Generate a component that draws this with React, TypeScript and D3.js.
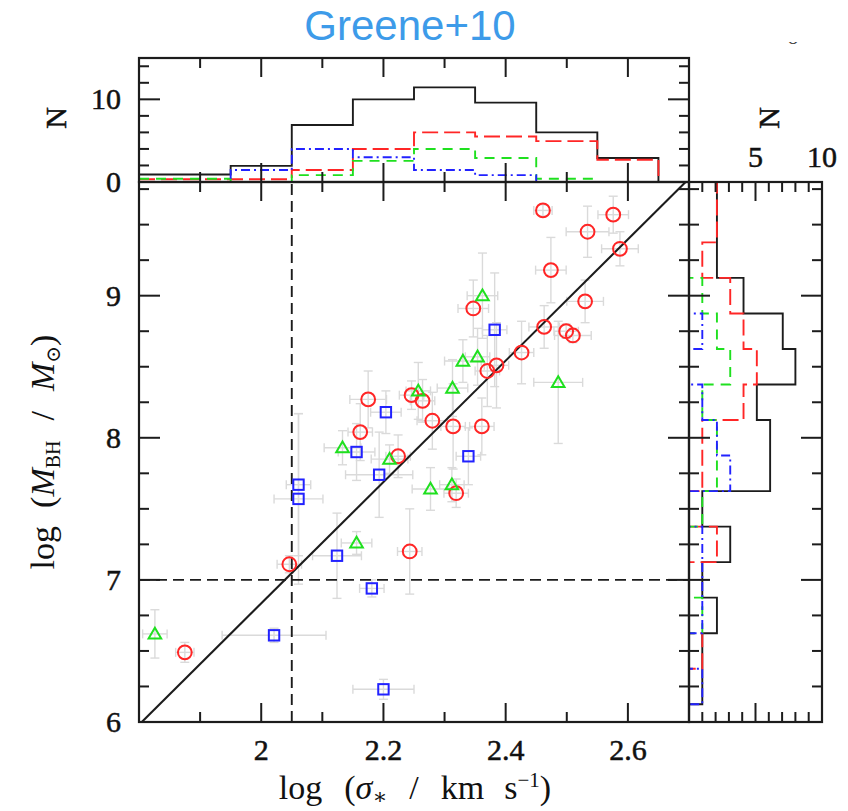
import React from 'react';
import * as d3 from 'd3';

const W = 848;
const H = 811;

// Scatter samples: [log sigma, log M_BH, sigma error, mass error]
const redPoints: number[][] = [
  [2.461, 9.60, 0.015, 0.04], [2.576, 9.57, 0.025, 0.13], [2.534, 9.45, 0.035, 0.18],
  [2.587, 9.33, 0.03, 0.12], [2.474, 9.18, 0.025, 0.23], [2.530, 8.96, 0.03, 0.15],
  [2.347, 8.91, 0.025, 0.2], [2.463, 8.78, 0.025, 0.15], [2.499, 8.75, 0.02, 0.05],
  [2.510, 8.72, 0.03, 0.05], [2.426, 8.60, 0.02, 0.22], [2.385, 8.51, 0.02, 0.3],
  [2.370, 8.47, 0.02, 0.25], [2.246, 8.30, 0.02, 0.1], [2.264, 8.26, 0.02, 0.15],
  [2.280, 8.12, 0.025, 0.2], [2.314, 8.08, 0.02, 0.3], [2.361, 8.08, 0.02, 0.2],
  [2.224, 7.87, 0.02, 0.15], [2.175, 8.27, 0.03, 0.2], [2.162, 8.04, 0.02, 0.2],
  [2.243, 7.20, 0.02, 0.3], [2.046, 7.11, 0.02, 0.06], [2.319, 7.61, 0.02, 0.1],
  [1.875, 6.49, 0.015, 0.07],
];
const greenPoints: number[][] = [
  [2.362, 9.00, 0.025, 0.3], [2.330, 8.54, 0.03, 0.15], [2.354, 8.57, 0.02, 0.2],
  [2.313, 8.35, 0.025, 0.2], [2.486, 8.39, 0.04, 0.43], [2.257, 8.33, 0.02, 0.2],
  [2.133, 7.93, 0.03, 0.12], [2.210, 7.85, 0.03, 0.1], [2.277, 7.64, 0.03, 0.15],
  [2.312, 7.67, 0.02, 0.12], [2.156, 7.26, 0.025, 0.08], [1.826, 6.62, 0.02, 0.17],
];
const bluePoints: number[][] = [
  [2.382, 8.76, 0.02, 0.4], [2.339, 7.87, 0.02, 0.2], [2.204, 8.18, 0.025, 0.15],
  [2.156, 7.90, 0.03, 0.2], [2.193, 7.74, 0.055, 0.3], [2.061, 7.67, 0.02, 0.5],
  [2.061, 7.57, 0.04, 0.6], [2.124, 7.17, 0.04, 0.3], [2.181, 6.94, 0.02, 0.06],
  [2.021, 6.61, 0.085, 0.05], [2.200, 6.23, 0.05, 0.07],
];

// Histogram of log sigma (bin centres, width 0.1; first bin runs to the frame)
const sigmaBins = [1.9, 2.0, 2.1, 2.2, 2.3, 2.4, 2.5, 2.6];
const sigmaAll = [0.9, 1.95, 6.9, 10.0, 11.45, 9.6, 6.0, 2.9];
const sigmaRed = [0.33, 0.33, 1.45, 4.0, 6.0, 5.5, 4.95, 2.7];
const sigmaGreen = [0.4, 0.0, 0.83, 2.56, 4.0, 2.9, 0.4, 0.0];
const sigmaBlue = [0.0, 1.45, 4.0, 3.0, 1.45, 0.83, 0.0, 0.0];

// Histogram of log M_BH (bin centres, width 0.25)
const massBins = [6.0, 6.25, 6.5, 6.75, 7.0, 7.25, 7.5, 7.75, 8.0, 8.25, 8.5, 8.75, 9.0, 9.25, 9.5, 9.75];
const massAll = [0, 1, 1, 2.1, 1, 3.1, 1, 6.1, 6.1, 5.1, 8.0, 7.05, 4.1, 2.1, 2.1, 2.1];
const massRed = [0, 0, 1, 0, 0, 2.1, 0, 1, 1, 4.1, 5.1, 4.1, 3.1, 1.0, 2.1, 2.1];
const massGreen = [0, 0, 0, 1, 0, 0, 1, 2.1, 2.1, 1, 3.1, 2.1, 1, 0, 0, 0];
const massBlue = [0, 1, 0, 1, 1, 1, 0, 3.1, 2.1, 1, 0, 1, 0, 0, 0, 0];

// M-sigma relation: log M = alpha + beta * (log sigma - log 200)
const relAlpha = 8.12;
const relBeta = 4.27;
const sigmaCut = 2.05;
const massCut = 7;

const xTickLabels = ['2', '2.2', '2.4', '2.6'];
const xMajor = [2.0, 2.2, 2.4, 2.6];
const xMinor = [1.9, 2.1, 2.3, 2.5];
const yMajor = [6, 7, 8, 9];
const yMinor = d3.range(6.25, 9.8, 0.25).filter((v) => Math.abs(v - Math.round(v)) > 0.01);
const nTopMajor = [0, 10];
const nTopMinor = [2, 4, 6, 8, 12, 14];
const nRightMajor = [5];
const nRightMinor = [1, 2, 3, 4, 6, 7, 8, 9];

const RED = '#ff2626';
const GREEN = '#1fe01f';
const BLUE = '#2222ff';
const INK = '#1c1c1c';
const ERR = '#dadada';

const L = 139, R = 689, T = 182, B = 722, TT = 58, RR = 822;

const x = d3.scaleLinear().domain([1.8, 2.7]).range([L, R]);
const y = d3.scaleLinear().domain([6, 9.8]).range([B, T]);
const yN = d3.scaleLinear().domain([0, 15]).range([T, TT]);
const xN = d3.scaleLinear().domain([0, 10]).range([R, RR]);

const line = d3.line<[number, number]>();

function sigmaStep(vals: number[]) {
  const half = 0.05;
  const pts: [number, number][] = [];
  vals.forEach((v, i) => {
    const a = i === 0 ? x.domain()[0] : sigmaBins[i] - half;
    const b = sigmaBins[i] + half;
    pts.push([x(a), yN(v)], [x(b), yN(v)]);
  });
  pts.push([x(sigmaBins[sigmaBins.length - 1] + half), yN(0)]);
  return line(pts) as string;
}

function massStep(vals: number[]) {
  const half = 0.125;
  const pts: [number, number][] = [];
  vals.forEach((v, i) => {
    const lo = Math.max(massBins[i] - half, y.domain()[0]);
    const hi = Math.min(massBins[i] + half, y.domain()[1]);
    pts.push([xN(v), y(lo)], [xN(v), y(hi)]);
  });
  return line(pts) as string;
}

const MAJ = 19;
const MIN = 10;

function ErrorBars({ pts }: { pts: number[][] }) {
  const cap = 4.5;
  return (
    <g stroke={ERR} strokeWidth={1.4} fill="none">
      {pts.map((p, i) => {
        const cx = x(p[0]);
        const cy = y(p[1]);
        const x0 = x(p[0] - p[2]);
        const x1 = x(p[0] + p[2]);
        const y0 = y(p[1] - p[3]);
        const y1 = y(p[1] + p[3]);
        return (
          <g key={i}>
            <line x1={x0} x2={x1} y1={cy} y2={cy} />
            <line x1={x0} x2={x0} y1={cy - cap} y2={cy + cap} />
            <line x1={x1} x2={x1} y1={cy - cap} y2={cy + cap} />
            <line x1={cx} x2={cx} y1={y0} y2={y1} />
            <line x1={cx - cap} x2={cx + cap} y1={y0} y2={y0} />
            <line x1={cx - cap} x2={cx + cap} y1={y1} y2={y1} />
          </g>
        );
      })}
    </g>
  );
}

export default function App() {
  const serif = '"Liberation Serif", "DejaVu Serif", serif';
  const tickFont = 30;

  const relX0 = Math.log10(200) + (6 - relAlpha) / relBeta;
  const relX1 = Math.log10(200) + (9.8 - relAlpha) / relBeta;
  const rel = (s: number) => relAlpha + relBeta * (s - Math.log10(200));

  const hTicks = (top: number, bottom: number) => (
    <g>
      {xMajor.map((v) => (
        <g key={'M' + v}>
          <line x1={x(v)} x2={x(v)} y1={bottom} y2={bottom - MAJ} />
          <line x1={x(v)} x2={x(v)} y1={top} y2={top + MAJ} />
        </g>
      ))}
      {xMinor.map((v) => (
        <g key={'m' + v}>
          <line x1={x(v)} x2={x(v)} y1={bottom} y2={bottom - MIN} />
          <line x1={x(v)} x2={x(v)} y1={top} y2={top + MIN} />
        </g>
      ))}
    </g>
  );

  const vTicks = (left: number, right: number) => (
    <g>
      {yMajor.map((v) => (
        <g key={'M' + v}>
          <line x1={left} x2={left + MAJ + 2} y1={y(v)} y2={y(v)} />
          <line x1={right} x2={right - MAJ - 2} y1={y(v)} y2={y(v)} />
        </g>
      ))}
      {yMinor.map((v) => (
        <g key={'m' + v}>
          <line x1={left} x2={left + MIN} y1={y(v)} y2={y(v)} />
          <line x1={right} x2={right - MIN} y1={y(v)} y2={y(v)} />
        </g>
      ))}
    </g>
  );

  return (
    <svg
      width={W}
      height={H}
      viewBox={`0 0 ${W} ${H}`}
      style={{ position: 'absolute', left: 0, top: 0, background: '#fff' }}
    >
      <rect width={W} height={H} fill="#fff" />
      <defs>
        <clipPath id="main-clip">
          <rect x={L} y={T} width={R - L} height={B - T} />
        </clipPath>
        <clipPath id="stub-clip">
          <rect x={770} y={42} width={50} height={20} />
        </clipPath>
      </defs>

      {/* title */}
      <text
        x={410}
        y={40}
        textAnchor="middle"
        fontFamily='"Liberation Sans", Arial, sans-serif'
        fontSize={42}
        fill="#3d9be9"
      >
        Greene+10
      </text>
      <text x={793} y={44} textAnchor="middle" fontFamily={serif} fontSize={22} fill="#444" clipPath="url(#stub-clip)">
        o
      </text>

      {/* error bars */}
      <g clipPath="url(#main-clip)">
        <ErrorBars pts={redPoints} />
        <ErrorBars pts={greenPoints} />
        <ErrorBars pts={bluePoints} />
      </g>

      {/* reference lines */}
      <g stroke={INK} strokeWidth={1.9} fill="none">
        <line x1={x(sigmaCut)} x2={x(sigmaCut)} y1={B} y2={T} strokeDasharray="11,6" />
        <line x1={L} x2={R} y1={y(massCut)} y2={y(massCut)} strokeDasharray="11,6" />
        <line x1={x(relX0)} y1={y(rel(relX0))} x2={x(relX1)} y2={y(rel(relX1))} strokeWidth={2.1} />
      </g>

      {/* markers */}
      <g fill="none" strokeWidth={2}>
        {redPoints.map((p, i) => (
          <circle key={'r' + i} cx={x(p[0])} cy={y(p[1])} r={6.9} stroke={RED} />
        ))}
        {greenPoints.map((p, i) => {
          const cx = x(p[0]);
          const cy = y(p[1]);
          return (
            <path
              key={'g' + i}
              d={`M${cx - 6.3},${cy + 4.6} L${cx + 6.3},${cy + 4.6} L${cx},${cy - 6.2} Z`}
              stroke={GREEN}
            />
          );
        })}
        {bluePoints.map((p, i) => (
          <rect key={'b' + i} x={x(p[0]) - 5.2} y={y(p[1]) - 5.2} width={10.4} height={10.4} stroke={BLUE} />
        ))}
      </g>

      {/* top histogram */}
      <g fill="none" strokeWidth={1.9}>
        <path d={sigmaStep(sigmaAll)} stroke={INK} />
        <path d={sigmaStep(sigmaRed)} stroke={RED} strokeDasharray="16,6" />
        <path d={sigmaStep(sigmaGreen)} stroke={GREEN} strokeDasharray="10,7" />
        <path d={sigmaStep(sigmaBlue)} stroke={BLUE} strokeDasharray="9,4,2,4" />
      </g>

      {/* right histogram */}
      <g fill="none" strokeWidth={1.9}>
        <path d={massStep(massAll)} stroke={INK} />
        <path d={massStep(massRed)} stroke={RED} strokeDasharray="16,6" />
        <path d={massStep(massGreen)} stroke={GREEN} strokeDasharray="10,7" />
        <path d={massStep(massBlue)} stroke={BLUE} strokeDasharray="9,4,2,4" />
      </g>

      {/* frames and ticks */}
      <g stroke={INK} strokeWidth={2} fill="none">
        <rect x={L} y={T} width={R - L} height={B - T} strokeWidth={2.2} />
        <rect x={L} y={TT} width={R - L} height={T - TT} strokeWidth={2.2} />
        <rect x={R} y={T} width={RR - R} height={B - T} strokeWidth={2.2} />
        {hTicks(T, B)}
        {hTicks(TT, T)}
        {vTicks(L, R)}
        {vTicks(R, RR)}
        {nTopMajor.map((v) => (
          <g key={'tn' + v}>
            <line x1={L} x2={L + MAJ + 2} y1={yN(v)} y2={yN(v)} />
            <line x1={R} x2={R - MAJ - 2} y1={yN(v)} y2={yN(v)} />
          </g>
        ))}
        {nTopMinor.map((v) => (
          <g key={'tm' + v}>
            <line x1={L} x2={L + MIN} y1={yN(v)} y2={yN(v)} />
            <line x1={R} x2={R - MIN} y1={yN(v)} y2={yN(v)} />
          </g>
        ))}
        {nRightMajor.map((v) => (
          <g key={'rn' + v}>
            <line x1={xN(v)} x2={xN(v)} y1={T} y2={T + MAJ} />
            <line x1={xN(v)} x2={xN(v)} y1={B} y2={B - MAJ} />
          </g>
        ))}
        {nRightMinor.map((v) => (
          <g key={'rm' + v}>
            <line x1={xN(v)} x2={xN(v)} y1={T} y2={T + MIN} />
            <line x1={xN(v)} x2={xN(v)} y1={B} y2={B - MIN} />
          </g>
        ))}
      </g>

      {/* tick labels */}
      <g fontFamily={serif} fontSize={tickFont} fill="#111" stroke="#111" strokeWidth={0.5}>
        {xMajor.map((v, i) => (
          <text key={'xl' + v} x={x(v)} y={760} textAnchor="middle">
            {xTickLabels[i]}
          </text>
        ))}
        {yMajor.map((v) => (
          <text key={'yl' + v} x={121} y={y(v) + 10} textAnchor="end">
            {String(v)}
          </text>
        ))}
        {nTopMajor.map((v) => (
          <text key={'nl' + v} x={121} y={yN(v) + 10} textAnchor="end">
            {String(v)}
          </text>
        ))}
        <text x={xN(5)} y={167} textAnchor="middle">5</text>
        <text x={xN(10)} y={167} textAnchor="middle">10</text>
        <text transform="translate(66,118) rotate(-90)" textAnchor="middle">N</text>
        <text transform="translate(779,118) rotate(-90)" textAnchor="middle">N</text>
      </g>

      {/* axis titles */}
      <text x={415} y={799} textAnchor="middle" fontFamily={serif} fontSize={34} fill="#111">
        log
        <tspan dx={22}>(</tspan>
        <tspan fontStyle="italic">σ</tspan>
        <tspan fontSize={22} dy={5}>∗</tspan>
        <tspan dx={22} dy={-5}>/</tspan>
        <tspan dx={22}>km</tspan>
        <tspan dx={20}>s</tspan>
        <tspan fontSize={21} dy={-12}>−1</tspan>
        <tspan dy={12}>)</tspan>
      </text>
      <text
        transform="translate(54,452) rotate(-90)"
        textAnchor="middle"
        fontFamily={serif}
        fontSize={34}
        fill="#111"
      >
        log
        <tspan dx={18}>(</tspan>
        <tspan fontStyle="italic">M</tspan>
        <tspan fontSize={20} dy={6}>BH</tspan>
        <tspan dx={20} dy={-6}>/</tspan>
        <tspan dx={20} fontStyle="italic">M</tspan>
        <tspan fontSize={20} dy={6}>⊙</tspan>
        <tspan dy={-6}>)</tspan>
      </text>
    </svg>
  );
}
